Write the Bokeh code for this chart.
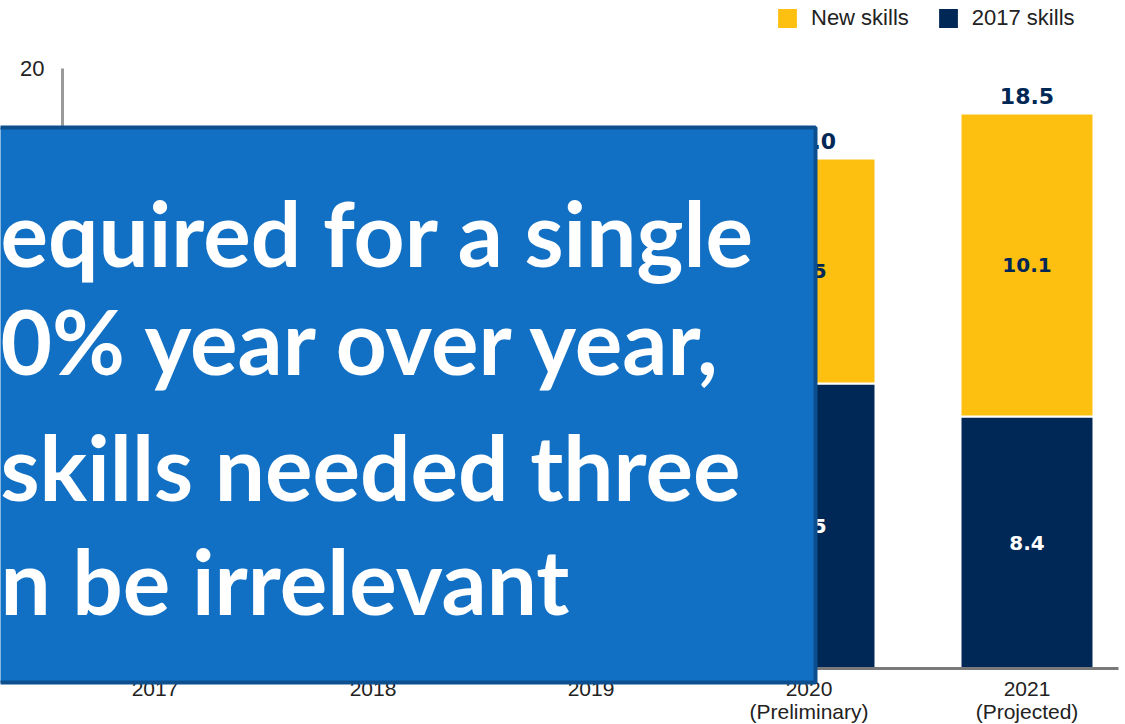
from bokeh.plotting import figure
from bokeh.models import (ColumnDataSource, FixedTicker, BoxAnnotation, Label,
                          Legend, LegendItem, LinearAxis, Range1d)
from bokeh.core.properties import value
from bokeh.embed import file_html
from bokeh.resources import INLINE

# ---------------- data ----------------
years = ["2017", "2018", "2019", "2020\n(Preliminary)", "2021\n(Projected)"]
skills_2017 = [12.6, 11.5, 10.5, 9.5, 8.4]
new_skills = [0.0, 2.4, 4.8, 7.5, 10.1]
y_ticks = [0, 5, 10, 15, 20]
overlay_lines = ["equired for a single", "0% year over year,",
                 "skills needed three", "n be irrelevant"]

# ---------------- styling / layout ----------------
W, H = 1125, 724
NAVY = "#002856"
YELLOW = "#FDC010"
BOX_FILL = "#1270C4"
BOX_LINE = "#0C4F8E"
CAT_PX = 218.0          # pixels per category
FIRST_PX = 154.5        # centre of first bar (px)
Y_PX = 30.0             # pixels per unit
BASE_PX = 668.0         # baseline (px from top)
OVERLAY_TOPS = [232, 340, 466, 580]


def xd(px):
    return (px - FIRST_PX) / CAT_PX


def yd(py):
    return (BASE_PX - py) / Y_PX


x_pos = list(range(len(years)))
totals = [round(a + b, 1) for a, b in zip(skills_2017, new_skills)]
src = ColumnDataSource(dict(
    x=x_pos,
    skills_2017=skills_2017,
    new_skills=new_skills,
    mid_old=[a / 2 for a in skills_2017],
    mid_new=[a + b / 2 for a, b in zip(skills_2017, new_skills)],
    total=totals,
    lab_old=[f"{a:.1f}" for a in skills_2017],
    lab_new=[f"{b:.1f}" if b > 0 else "" for b in new_skills],
    lab_total=[f"{t:.1f}" for t in totals],
))

p = figure(x_range=Range1d(xd(0), xd(W)), y_range=Range1d(yd(H), yd(0)),
           width=W, height=H, output_backend="svg", toolbar_location=None,
           x_axis_location=None, y_axis_location=None,
           min_border=0, min_border_left=0, min_border_right=0,
           min_border_top=0, min_border_bottom=0)
p.outline_line_color = None
p.grid.grid_line_color = None
p.background_fill_color = "white"
p.border_fill_color = "white"

rs = p.vbar_stack(["skills_2017", "new_skills"], x="x", width=0.61,
                  color=[NAVY, YELLOW], line_color="white", line_width=2,
                  source=src)

# value labels
p.text(x="x", y="mid_old", text="lab_old", source=src, text_color="white",
       text_font=value("DejaVu Sans"), text_font_style="bold",
       text_font_size="20px", text_align="center", text_baseline="middle")
p.text(x="x", y="mid_new", text="lab_new", source=src, text_color=NAVY,
       text_font=value("DejaVu Sans"), text_font_style="bold",
       text_font_size="20px", text_align="center", text_baseline="middle")
p.text(x="x", y="total", text="lab_total", source=src, text_color=NAVY,
       text_font=value("DejaVu Sans"), text_font_style="bold",
       text_font_size="22px", text_align="center", text_baseline="middle",
       y_offset=-18)

# axes (fixed inside the full-canvas frame)
xa = LinearAxis(fixed_location=0, bounds=(xd(62), xd(1118)),
                ticker=FixedTicker(ticks=x_pos),
                major_label_overrides={i: lab for i, lab in zip(x_pos, years)})
xa.axis_line_color = "#7a7a7a"
xa.axis_line_width = 3
xa.major_tick_line_color = None
xa.minor_tick_line_color = None
xa.major_label_text_font = "Liberation Sans"
xa.major_label_text_font_size = "21px"
xa.major_label_text_color = "#222222"
xa.major_label_text_line_height = 1.0
xa.major_label_standoff = 2
p.add_layout(xa, "below")

ya = LinearAxis(fixed_location=xd(62), bounds=(0, 20),
                ticker=FixedTicker(ticks=y_ticks))
ya.axis_line_color = "#9a9a9a"
ya.axis_line_width = 3
ya.major_tick_line_color = None
ya.minor_tick_line_color = None
ya.major_label_text_font = "Liberation Sans"
ya.major_label_text_font_size = "22px"
ya.major_label_text_color = "#222222"
ya.major_label_standoff = 12
p.add_layout(ya, "left")

# legend (location = bottom-left corner, measured from frame bottom-left)
legend = Legend(items=[LegendItem(label="New skills", renderers=[rs[1]]),
                       LegendItem(label="2017 skills", renderers=[rs[0]])],
                orientation="horizontal", location=(774, H - 31),
                glyph_width=26, glyph_height=26, label_standoff=11, spacing=26,
                padding=0, margin=0, border_line_color=None,
                background_fill_alpha=0, label_text_font="Liberation Sans",
                label_text_font_size="22px", label_text_color="#222222",
                label_height=26)
p.add_layout(legend)

# overlay box with text
box = BoxAnnotation(left=xd(-20), right=xd(815), top=yd(127), bottom=yd(682),
                    fill_color=BOX_FILL, fill_alpha=1.0,
                    line_color=BOX_LINE, line_width=4, line_alpha=1.0)
p.add_layout(box)

for txt, top in zip(overlay_lines, OVERLAY_TOPS):
    p.add_layout(Label(x=xd(0), y=yd(top), text=txt,
                       text_color="white", text_font="Lato",
                       text_font_style="bold", text_font_size="89px",
                       text_align="left", text_baseline="alphabetic"))

open("out.html", "w").write(file_html(p, INLINE))
